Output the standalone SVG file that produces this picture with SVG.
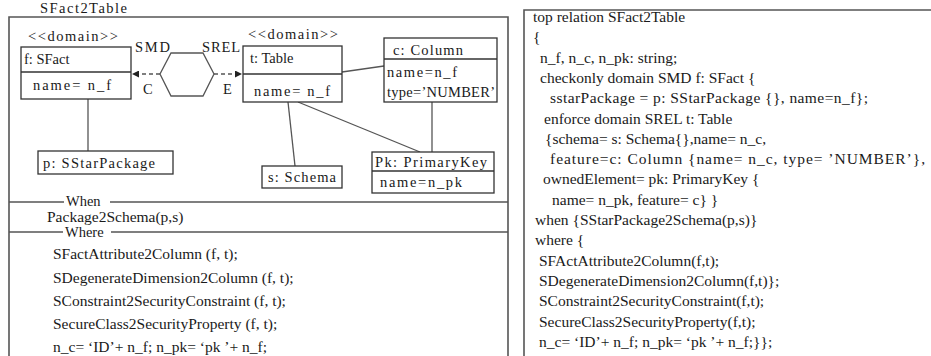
<svg xmlns="http://www.w3.org/2000/svg" width="931" height="356" viewBox="0 0 931 356">
<style>
text{font-family:"Liberation Serif","Times New Roman",serif;font-size:14.5px;fill:#1a1a1a}
.big{font-size:15.5px}
.frame{fill:none;stroke:#555;stroke-width:1.6}
.box{fill:#fff;stroke:#333;stroke-width:1.3}
.div{stroke:#333;stroke-width:1.3}
.conn{fill:none;stroke:#555;stroke-width:1.3}
.dash{fill:none;stroke:#555;stroke-width:1.5;stroke-dasharray:4,3}
</style>
<defs>
<marker id="ah" viewBox="0 0 10 10" refX="10" refY="5" markerWidth="7" markerHeight="7" orient="auto" markerUnits="userSpaceOnUse">
<path d="M0,0 L10,5 L0,10 z" fill="#222"/>
</marker>
</defs>
<rect width="931" height="356" fill="#fff"/>

<g id="left-panel">
<text x="40" y="13" textLength="87" lengthAdjust="spacing">SFact2Table</text>
<path class="frame" d="M9,358 V17 H508 V358"/>
<line class="frame" x1="9" y1="202" x2="64" y2="202"/>
<line class="frame" x1="110" y1="202" x2="508" y2="202"/>
<text x="66" y="206">When</text>
<text class="big" x="47" y="222">Package2Schema(p,s)</text>
<line class="frame" x1="9" y1="232" x2="63" y2="232"/>
<line class="frame" x1="111" y1="232" x2="508" y2="232"/>
<text x="65" y="237">Where</text>
<text class="big" x="53" y="259">SFactAttribute2Column (f, t);</text>
<text class="big" x="53" y="283">SDegenerateDimension2Column (f, t);</text>
<text class="big" x="53" y="306">SConstraint2SecurityConstraint (f, t);</text>
<text class="big" x="53" y="329">SecureClass2SecurityProperty (f, t);</text>
<text class="big" x="53" y="352">n_c= ‘ID’+ n_f;  n_pk= ‘pk  ’+ n_f;</text>
</g>

<g id="connectors">
<line class="conn" x1="88" y1="99" x2="88" y2="151"/>
<line class="conn" x1="288" y1="102" x2="295" y2="166"/>
<line class="conn" x1="298" y1="102" x2="420" y2="152"/>
<line class="conn" x1="342" y1="72" x2="384" y2="66"/>
<line class="conn" x1="432" y1="102" x2="432" y2="152"/>
<line class="dash" x1="160" y1="74" x2="132" y2="74" marker-end="url(#ah)"/>
<line class="dash" x1="214" y1="74" x2="242" y2="74" marker-end="url(#ah)"/>
<text x="135" y="52" textLength="35" lengthAdjust="spacing">SMD</text>
<text x="202" y="52" textLength="38" lengthAdjust="spacing">SREL</text>
<text x="143" y="94">C</text>
<text x="223" y="94">E</text>
</g>

<g id="relation">
<polygon points="160,74 171,53 203,53 214,74 203,96 171,96" fill="#fff" stroke="#555" stroke-width="1.3"/>
</g>

<g id="sfact">
<text x="28" y="41" textLength="90" lengthAdjust="spacing">&lt;&lt;domain&gt;&gt;</text>
<rect class="box" x="21" y="47" width="110" height="52"/>
<line class="div" x1="21" y1="72" x2="131" y2="72"/>
<text x="24" y="64">f: SFact</text>
<text x="33" y="90" textLength="78" lengthAdjust="spacing">name= n_f</text>
</g>

<g id="table">
<text x="248" y="39" textLength="90" lengthAdjust="spacing">&lt;&lt;domain&gt;&gt;</text>
<rect class="box" x="243" y="46" width="99" height="56"/>
<line class="div" x1="243" y1="74" x2="342" y2="74"/>
<text x="250" y="63">t: Table</text>
<text x="254" y="96" textLength="76" lengthAdjust="spacing">name= n_f</text>
</g>

<g id="column">
<rect class="box" x="384" y="38" width="113" height="64"/>
<line class="div" x1="384" y1="59" x2="497" y2="59"/>
<text x="393" y="55" textLength="70" lengthAdjust="spacing">c: Column</text>
<text x="387" y="77" textLength="70" lengthAdjust="spacing">name=n_f</text>
<text x="387" y="97" textLength="108" lengthAdjust="spacing">type=’NUMBER’</text>
</g>

<g id="sstarpackage">
<rect class="box" x="38" y="151" width="135" height="23"/>
<text x="43" y="168" textLength="112" lengthAdjust="spacing">p: SStarPackage</text>
</g>

<g id="schema">
<rect class="box" x="262" y="166" width="80" height="22"/>
<text x="268" y="182" textLength="68" lengthAdjust="spacing">s: Schema</text>
</g>

<g id="primarykey">
<rect class="box" x="372" y="152" width="122" height="41"/>
<line class="div" x1="372" y1="171" x2="494" y2="171"/>
<text x="375" y="167" textLength="112" lengthAdjust="spacing">Pk: PrimaryKey</text>
<text x="380" y="187" textLength="82" lengthAdjust="spacing">name=n_pk</text>
</g>

<g id="code-panel">
<path class="frame" d="M524,358 V10 H933"/>
<text class="big" x="533" y="22">top relation SFact2Table</text>
<text class="big" x="533" y="42">{</text>
<text class="big" x="540" y="63"> n_f, n_c, n_pk: string;</text>
<text class="big" x="540" y="83">checkonly domain SMD f:  SFact {</text>
<text class="big" x="550" y="103" textLength="318" lengthAdjust="spacing">sstarPackage = p: SStarPackage {}, name=n_f};</text>
<text class="big" x="544" y="124">enforce domain SREL t:  Table</text>
<text class="big" x="545" y="144">{schema= s:  Schema{},name= n_c,</text>
<text class="big" x="550" y="164" textLength="375" lengthAdjust="spacing">feature=c:  Column {name= n_c, type= ’NUMBER’},</text>
<text class="big" x="543" y="184">ownedElement= pk:  PrimaryKey {</text>
<text class="big" x="552" y="205">name= n_pk, feature= c} }</text>
<text class="big" x="535" y="225">when {SStarPackage2Schema(p,s)}</text>
<text class="big" x="535" y="245">where {</text>
<text class="big" x="539" y="266">SFActAttribute2Column(f,t);</text>
<text class="big" x="539" y="286">SDegenerateDimension2Column(f,t)};</text>
<text class="big" x="539" y="306">SConstraint2SecurityConstraint(f,t);</text>
<text class="big" x="539" y="327">SecureClass2SecurityProperty(f,t);</text>
<text class="big" x="539" y="347">n_c= ‘ID’+ n_f;  n_pk= ‘pk  ’+ n_f;}};</text>
</g>
</svg>
